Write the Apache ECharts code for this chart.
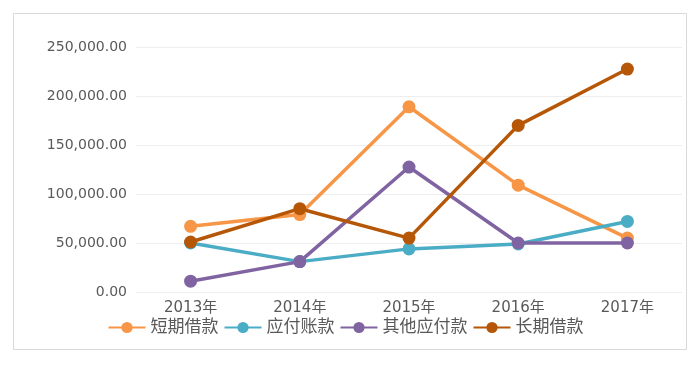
<!DOCTYPE html>
<html><head><meta charset="utf-8">
<script src="https://cdn.jsdelivr.net/npm/echarts@6/dist/echarts.min.js"></script>
<style>html,body{margin:0;padding:0;background:#fff}#c{width:691px;height:365px}</style>
</head><body><div id="c"></div>
<script>
const categories = ['2013年','2014年','2015年','2016年','2017年'];
const seriesNames = ['短期借款','应付账款','其他应付款','长期借款'];
const shortLoan = [67000, 79000, 189000, 109000, 55000];
const payables = [50000, 31000, 44000, 49000, 72000];
const otherPayables = [11000, 31000, 127500, 50000, 50000];
const longLoan = [51000, 85000, 55000, 170000, 227500];
const colors = ['#F79646','#4BACC6','#8064A2','#B65708'];
const values = [shortLoan, payables, otherPayables, longLoan];
const font = '"DejaVu Sans", "Noto Sans CJK SC", sans-serif';
const chart = echarts.init(document.getElementById('c'));
chart.setOption({
  animation: false,
  color: colors,
  graphic: [{type:'rect', shape:{x:13.5,y:13.5,width:673,height:336}, style:{fill:'none',stroke:'#d9d9d9',lineWidth:1}, silent:true}],
  grid: {left:136, right:9, top:47, bottom:73, containLabel:false},
  legend: {
    data: seriesNames, top: 314, left: 'center', itemGap: 5, itemWidth: 37, itemHeight: 14,
    textStyle: {color:'#595959', fontSize:17, fontFamily:font}
  },
  xAxis: {
    type:'category', data: categories, boundaryGap:true,
    axisLine:{show:false}, axisTick:{show:false},
    axisLabel:{color:'#595959', fontSize:15, fontFamily:font, margin:9}
  },
  yAxis: {
    type:'value', min:0, max:250000, interval:50000,
    axisLine:{show:false}, axisTick:{show:false},
    splitLine:{lineStyle:{color:'#eeeeee', width:1}},
    axisLabel:{color:'#595959', fontSize:14, fontFamily:font, margin:9,
      formatter: v => v.toLocaleString('en-US',{minimumFractionDigits:2, maximumFractionDigits:2})}
  },
  series: seriesNames.map((n,i)=>({
    name:n, type:'line', data: values[i], symbol:'circle', symbolSize:13,
    lineStyle:{width:3.5, color:colors[i]}, itemStyle:{color:colors[i]}
  }))
});
</script></body></html>
